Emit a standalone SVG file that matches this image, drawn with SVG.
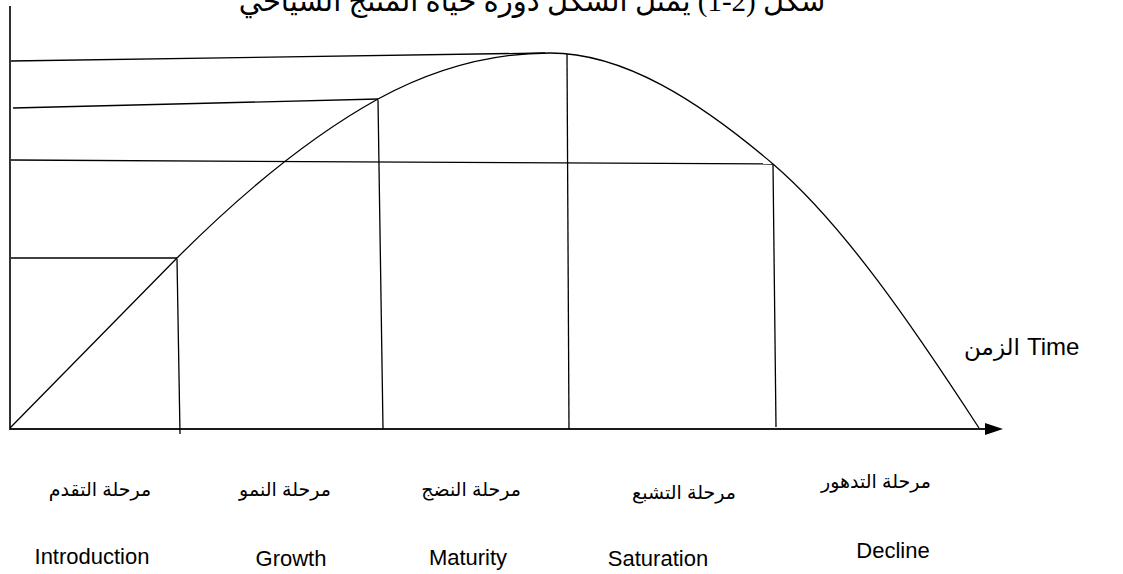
<svg xmlns="http://www.w3.org/2000/svg" width="1123" height="574" viewBox="0 0 1123 574">
<style>
.ln{stroke:#000;stroke-width:1.3;fill:none}
.ax{stroke:#1a1a1a;stroke-width:1.8;fill:none}
.en{font-family:"Liberation Sans",Arial,sans-serif;font-size:22px;fill:#000;text-anchor:middle}
.ar{font-family:"Liberation Sans","DejaVu Sans",sans-serif;font-size:19px;fill:#000;text-anchor:middle}
.ti{font-family:"Liberation Serif","DejaVu Sans",serif;font-size:29px;fill:#000;text-anchor:middle}
</style>
<defs>
<marker id="arr" markerWidth="20" markerHeight="14" refX="0" refY="6" orient="auto" markerUnits="userSpaceOnUse">
<path d="M0,0 L18,6 L0,12 Z" fill="#000"/>
</marker>
</defs>
<g id="title">
<text class="ti" x="532" y="11" direction="rtl">شكل (2-1) يمثل الشكل دورة حياة المنتج السياحي</text>
</g>
<g id="axes">
<line class="ax" x1="10" y1="6" x2="10" y2="430"/>
<line class="ax" x1="10" y1="429" x2="985" y2="429" marker-end="url(#arr)"/>
</g>
<g id="connectors">
<line class="ln" x1="11" y1="61" x2="545" y2="53"/>
<line class="ln" x1="13" y1="108" x2="378" y2="99"/>
<line class="ln" x1="11" y1="160" x2="773" y2="164"/>
<line class="ln" x1="11" y1="258" x2="177" y2="258"/>
<line class="ln" x1="177" y1="259" x2="180" y2="434"/>
<line class="ln" x1="378" y1="100" x2="383" y2="429"/>
<line class="ln" x1="567" y1="54" x2="569" y2="429"/>
<line class="ln" x1="773" y1="164" x2="776" y2="427"/>
</g>
<g id="curve">
<path class="ln" d="M10,428 C66,371 121,315 177,258 C244,191 311,136 378,99 C435,68 493,53 550,53 C624,53 699,101 773,164 C843,224 912,325 979,428"/>
</g>
<g id="time-label">
<text class="ar" x="1020" y="355" style="text-anchor:start;font-size:23px" direction="rtl">الزمن</text>
<text class="en" x="1027" y="355" style="text-anchor:start;font-size:24px">Time</text>
</g>
<g id="stage-introduction">
<text class="ar" x="100" y="496" direction="rtl">مرحلة التقدم</text>
<text class="en" x="92" y="564">Introduction</text>
</g>
<g id="stage-growth">
<text class="ar" x="285" y="496" direction="rtl">مرحلة النمو</text>
<text class="en" x="291" y="566">Growth</text>
</g>
<g id="stage-maturity">
<text class="ar" x="471" y="496" direction="rtl">مرحلة النضج</text>
<text class="en" x="468" y="565">Maturity</text>
</g>
<g id="stage-saturation">
<text class="ar" x="684" y="499" direction="rtl">مرحلة التشبع</text>
<text class="en" x="658" y="566">Saturation</text>
</g>
<g id="stage-decline">
<text class="ar" x="876" y="488" direction="rtl">مرحلة التدهور</text>
<text class="en" x="893" y="558">Decline</text>
</g>
</svg>
